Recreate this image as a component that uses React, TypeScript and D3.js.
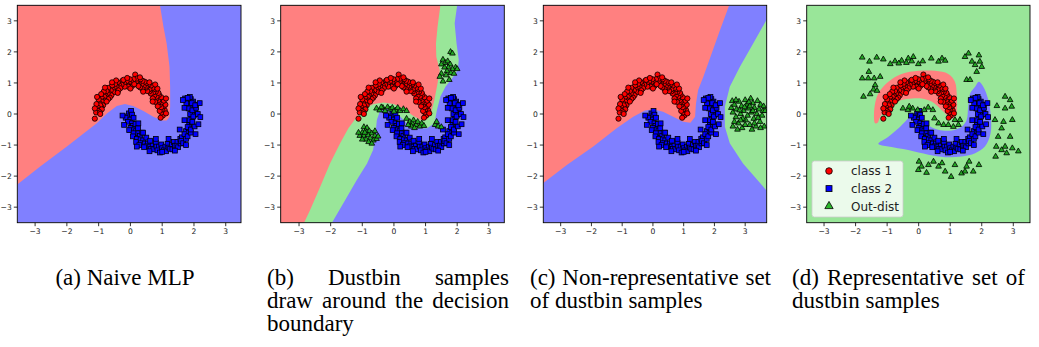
import React from 'react';
import * as d3 from 'd3';

type Pt = [number, number];

// ---- scatter data ----
const class1: Pt[] = [
  [1.02, -0.05], [0.98, 0.05], [1.08, 0.12], [0.95, -0.12], [1.12, 0.02],
  [0.99, 0.15], [1.05, 0.25], [0.92, 0.1], [1.1, 0.3], [0.97, 0.22],
  [0.93, 0.3], [0.98, 0.38], [0.86, 0.25], [1.05, 0.43], [0.9, 0.4],
  [0.88, 0.45], [0.82, 0.5], [0.97, 0.54], [0.78, 0.39], [0.9, 0.62],
  [0.82, 0.56], [0.75, 0.6], [0.88, 0.68], [0.7, 0.5], [0.8, 0.72],
  [0.72, 0.7], [0.64, 0.66], [0.78, 0.8], [0.6, 0.73], [0.7, 0.84],
  [0.6, 0.8], [0.53, 0.74], [0.65, 0.92], [0.5, 0.85], [0.58, 0.96],
  [0.48, 0.88], [0.42, 0.9], [0.52, 1.0], [0.38, 0.8], [0.45, 1.04],
  [0.35, 0.95], [0.3, 0.86], [0.38, 1.07], [0.26, 0.98], [0.32, 1.12],
  [0.22, 0.96], [0.18, 1.05], [0.25, 0.9], [0.15, 1.27], [0.2, 1.14],
  [0.08, 1.0], [0.05, 0.9], [0.1, 1.12], [0.02, 1.04], [0.12, 0.96],
  [-0.05, 1.02], [-0.1, 0.93], [-0.02, 1.12], [-0.12, 1.06], [-0.07, 0.88],
  [-0.2, 0.98], [-0.25, 1.07], [-0.18, 0.88], [-0.28, 0.94], [-0.22, 1.1],
  [-0.35, 0.92], [-0.4, 1.02], [-0.32, 0.83], [-0.44, 0.88], [-0.38, 0.76],
  [-0.5, 0.86], [-0.55, 0.78], [-0.48, 0.97], [-0.58, 0.92], [-0.52, 0.7],
  [-0.62, 0.76], [-0.68, 0.68], [-0.6, 0.6], [-0.7, 0.84], [-0.65, 0.53],
  [-0.72, 0.66], [-0.78, 0.58], [-0.75, 0.74], [-0.84, 0.72], [-0.7, 0.48],
  [-0.82, 0.55], [-0.9, 0.5], [-0.8, 0.43], [-0.92, 0.64], [-0.85, 0.36],
  [-0.9, 0.4], [-0.97, 0.35], [-0.86, 0.28], [-1.0, 0.47], [-0.92, 0.22],
  [-0.95, 0.28], [-1.02, 0.2], [-0.98, 0.12], [-1.07, 0.32], [-0.9, 0.15],
  [-1.02, 0.1], [-1.08, 0.05], [-0.96, 0.05], [-1.12, 0.18], [-1.12, -0.15],
  [0.6, 1.02], [0.3, 1.18], [-0.1, 1.16], [-0.45, 1.08], [-0.8, 0.85], [-1.05, 0.55],
  [0.85, 0.82], [1.12, 0.5], [0.4, 0.72], [0.0, 0.82], [-0.4, 0.68], [-0.75, 0.4],
  [0.7, 0.4], [-0.58, 1.02], [0.78, 0.95], [-0.95, 0.0],
];

const class2: Pt[] = [
  [-0.05, 0.02], [0.02, 0.1], [-0.1, -0.08], [0.05, -0.02], [-0.15, -0.12],
  [0.0, -0.18], [-0.08, -0.25], [0.1, -0.12], [-0.2, -0.35], [0.05, -0.3],
  [0.08, -0.38], [0.0, -0.45], [0.16, -0.32], [-0.04, -0.52], [0.12, -0.5],
  [0.18, -0.55], [0.1, -0.62], [0.24, -0.46], [0.08, -0.72], [0.25, -0.62],
  [0.3, -0.7], [0.2, -0.8], [0.37, -0.6], [0.18, -0.9], [0.32, -0.82],
  [0.4, -0.85], [0.33, -0.94], [0.5, -0.76], [0.28, -1.0], [0.45, -0.95],
  [0.55, -0.95], [0.5, -1.04], [0.62, -0.86], [0.43, -1.07], [0.62, -1.05],
  [0.7, -1.02], [0.65, -1.12], [0.8, -0.93], [0.72, -1.14], [0.82, -1.05],
  [0.9, -1.05], [0.85, -1.17], [0.97, -0.98], [0.93, -1.24], [1.0, -1.1],
  [1.1, -1.05], [1.05, -1.17], [1.17, -0.96], [1.12, -1.2], [1.2, -1.08],
  [1.3, -1.0], [1.25, -1.12], [1.37, -0.9], [1.32, -1.14], [1.4, -1.02],
  [1.48, -0.9], [1.45, -1.02], [1.57, -0.8], [1.5, -1.07], [1.58, -0.95],
  [1.62, -0.75], [1.6, -0.87], [1.72, -0.66], [1.66, -0.94], [1.75, -0.8],
  [1.75, -0.55], [1.7, -0.65], [1.84, -0.46], [1.8, -0.72], [1.9, -0.6],
  [1.85, -0.35], [1.8, -0.42], [1.94, -0.26], [1.9, -0.5], [2.02, -0.4],
  [1.92, -0.12], [1.86, -0.2], [2.0, -0.03], [1.95, -0.25], [2.14, -0.33],
  [1.95, 0.05], [1.88, 0.0], [2.04, 0.12], [1.98, -0.08], [2.12, 0.0],
  [1.9, 0.25], [1.83, 0.18], [2.02, 0.3], [1.95, 0.12], [2.07, 0.2],
  [1.82, 0.42], [1.76, 0.35], [1.9, 0.48], [1.72, 0.5], [1.97, 0.4],
  [1.87, 0.55], [1.8, 0.52], [1.93, 0.35], [1.65, 0.45], [2.04, 0.28],
  [0.2, -1.05], [0.6, -1.2], [1.0, -1.22], [1.4, -1.18], [1.75, -1.0], [2.05, -0.65],
  [2.2, -0.1], [0.4, -0.6], [0.8, -0.8], [1.2, -0.8], [1.55, -0.5], [1.7, -0.2],
  [0.25, -0.3], [1.7, 0.2], [-0.25, -0.05], [2.18, 0.35],
];

const dustbinB: Pt[] = [
  [1.79, 2.0], [1.85, 1.95], [1.55, 1.75], [1.62, 1.65], [1.7, 1.7], [1.78, 1.6], [1.95, 1.5],
  [2.0, 1.45], [1.85, 1.45], [1.72, 1.5], [1.6, 1.5], [1.5, 1.3], [1.68, 1.38], [1.8, 1.32],
  [1.45, 1.2], [1.55, 1.05], [1.75, 1.1], [1.9, 1.3], [1.65, 1.25], [1.5, 1.6],
  [-0.95, -0.42], [-0.85, -0.45], [-0.9, -0.55], [-1.0, -0.6], [-0.78, -0.55], [-0.7, -0.62],
  [-1.08, -0.7], [-0.95, -0.7], [-0.82, -0.68], [-0.6, -0.7], [-0.75, -0.78], [-0.88, -0.82],
  [-1.0, -0.82], [-0.65, -0.85], [-0.55, -0.8], [-0.8, -0.9], [-0.7, -0.95], [-0.92, -0.6],
  [-0.6, -0.55], [-1.12, -0.6], [-0.5, -0.72],
  [-0.55, 0.18], [-0.45, 0.12], [-0.35, 0.2], [-0.28, 0.1], [-0.2, 0.22], [-0.12, 0.15],
  [-0.05, 0.2], [0.05, 0.12], [0.12, 0.2], [0.2, 0.1], [0.3, 0.16], [0.4, 0.1], [-0.4, 0.22], [0.0, 0.08],
  [0.4, -0.15], [0.5, -0.25], [0.58, -0.3], [0.62, -0.2], [0.7, -0.35], [0.75, -0.25], [0.82, -0.4],
  [0.88, -0.3], [0.95, -0.38], [0.55, -0.4], [0.45, -0.35], [1.3, -0.35], [1.4, -0.4], [1.5, -0.42],
  [1.35, -0.25], [0.65, -0.45],
];

const dustbinC: Pt[] = [
  [2.55, 0.2], [2.6, 0.05], [2.65, 0.3], [2.7, -0.1], [2.72, 0.15], [2.8, 0.4], [2.78, -0.3],
  [2.85, 0.0], [2.88, 0.25], [2.9, -0.45], [2.95, 0.1], [3.0, 0.45], [3.02, -0.2], [3.05, 0.3],
  [3.08, -0.05], [3.1, 0.18], [3.15, -0.35], [3.18, 0.5], [3.2, 0.05], [3.25, 0.35], [3.28, -0.15],
  [3.3, 0.2], [3.35, -0.4], [3.38, 0.0], [3.4, 0.42], [3.45, 0.15], [3.48, -0.25], [3.5, 0.3],
  [3.55, -0.05], [3.6, 0.25], [3.62, -0.4], [2.65, -0.25], [2.75, -0.5], [2.6, -0.4], [2.92, -0.15],
  [3.12, 0.38], [3.22, -0.5], [3.42, -0.12], [3.58, 0.1], [2.82, 0.12], [3.0, -0.35], [3.3, -0.3],
  [2.58, 0.42], [3.65, 0.1], [3.15, 0.25], [2.7, 0.45], [2.98, 0.22], [3.25, 0.1], [3.5, -0.45],
  [2.85, -0.2],
];

const dustbinD: Pt[] = [
  [-1.79, 1.82], [-1.56, 1.69], [-1.33, 1.82], [-1.12, 1.76], [-0.9, 1.61], [-0.75, 1.7],
  [-0.54, 1.72], [-0.33, 1.79], [-0.22, 1.7], [-0.01, 1.61], [0.13, 1.7], [0.4, 1.79],
  [0.63, 1.69], [0.74, 1.79], [0.84, 1.72], [-0.63, 1.63], [-0.39, 1.65], [-0.17, 1.84],
  [-1.58, 1.36], [-1.79, 1.15], [-1.6, 1.15], [-1.41, 1.15], [-1.22, 1.2], [-1.38, 0.93],
  [-1.43, 0.79], [-1.54, 0.64], [-1.75, 0.56], [-1.32, 0.75],
  [1.58, 1.95], [1.91, 1.89], [1.69, 1.69], [1.79, 1.58], [1.94, 1.69], [1.84, 1.36],
  [1.52, 1.1], [1.63, 1.1], [2.0, 1.52], [1.47, 1.84],
  [2.74, 0.56], [2.9, 0.45], [2.48, 0.26], [2.74, 0.18], [2.95, 0.24], [2.42, -0.19],
  [2.69, -0.25], [2.97, -0.19], [2.63, -0.46], [2.9, -0.73], [2.52, -0.73], [2.46, -1.05],
  [2.74, -1.05], [2.97, -1.1], [3.16, -1.2], [2.44, -1.37], [2.79, -1.26], [2.63, -1.16],
  [0.01, -1.53], [0.09, -1.69], [0.31, -1.64], [0.25, -1.89], [0.63, -1.69], [0.74, -1.58],
  [0.84, -1.85], [1.03, -2.02], [1.15, -1.64], [1.36, -1.91], [1.52, -1.69], [1.6, -1.53],
  [1.73, -1.85], [1.91, -1.64], [1.47, -1.85], [-0.01, -1.8], [0.47, -1.53],
  [-0.5, 0.18], [-0.34, 0.13], [-0.19, 0.18], [-0.03, 0.13], [0.3, 0.21], [0.45, 0.13],
  [0.18, 0.13], [-0.3, 0.24],
  [0.63, -0.3], [0.79, -0.35], [0.94, -0.35], [1.15, -0.19], [1.26, -0.35], [1.31, -0.19],
  [1.1, -0.41], [0.5, -0.14],
];

// ---- decision region outlines (data coords) ----
const naiveRed: Pt[] = [
  [-3.6, 3.6], [0.93, 3.6], [0.93, 3.5], [1.04, 2.81], [1.14, 2.27], [1.23, 1.52], [1.25, 0.88],
  [1.25, 0.24], [1.23, -0.09], [1.14, -0.21], [0.99, -0.21], [0.72, -0.09], [0.41, 0.1],
  [0.09, 0.26], [-0.17, 0.32], [-0.43, 0.26], [-0.74, 0.02], [-1.06, -0.3], [-2.0, -1.05],
  [-2.84, -1.69], [-3.6, -2.3],
];

const dustbinGreenB: Pt[] = [
  [-3.7, 3.6], [2.0, 3.6], [2.0, 3.5], [1.92, 2.92], [1.98, 2.27], [2.05, 1.74], [2.02, 1.41],
  [1.84, 1.15], [1.63, 0.88], [1.47, 0.56], [1.36, 0.13], [1.28, -0.3], [1.05, -0.46],
  [0.73, -0.46], [0.41, -0.3], [0.15, -0.03], [-0.06, 0.13], [-0.27, 0.18], [-0.45, 0.07],
  [-0.54, -0.19], [-0.59, -0.73], [-0.66, -1.16], [-0.85, -1.59], [-1.17, -2.12],
  [-1.54, -2.77], [-1.96, -3.5], [-2.0, -3.6], [-3.7, -3.6],
];

const dustbinRedB: Pt[] = [
  [-3.7, 3.6], [1.47, 3.6], [1.47, 3.5], [1.38, 2.81], [1.33, 2.27], [1.34, 1.84], [1.45, 1.41],
  [1.38, 0.99], [1.28, 0.45], [1.17, 0.02], [1.05, -0.17], [0.84, -0.19], [0.57, -0.03],
  [0.31, 0.18], [-0.01, 0.32], [-0.33, 0.37], [-0.64, 0.32], [-0.91, 0.18], [-1.17, -0.09],
  [-1.44, -0.46], [-1.7, -0.94], [-2.02, -1.59], [-2.33, -2.34], [-2.65, -3.09],
  [-2.84, -3.5], [-2.88, -3.6], [-3.7, -3.6],
];

const nonRepRed: Pt[] = [
  [-3.6, 3.6], [2.52, 3.6], [2.48, 3.5], [2.18, 2.7], [1.91, 1.95], [1.64, 1.2], [1.47, 0.77],
  [1.4, 0.34], [1.37, -0.09], [1.22, -0.28], [0.98, -0.25], [0.66, -0.09], [0.33, 0.07],
  [0.01, 0.15], [-0.26, 0.11], [-0.64, -0.09], [-1.18, -0.46], [-1.94, -1.05],
  [-2.8, -1.64], [-3.6, -2.25],
];

const nonRepGreen: Pt[] = [
  [3.8, 3.1], [3.7, 3.04], [3.26, 2.27], [2.83, 1.52], [2.5, 0.88], [2.34, 0.24],
  [2.34, -0.41], [2.5, -0.94], [2.93, -1.59], [3.7, -2.47], [3.8, -2.55],
];

const repRed: Pt[] = [
  [-1.38, -0.3], [-1.41, 0.13], [-1.28, 0.66], [-0.96, 1.04], [-0.54, 1.29], [-0.01, 1.39],
  [0.52, 1.39], [0.94, 1.29], [1.15, 1.04], [1.21, 0.56], [1.21, 0.13], [1.15, -0.09],
  [1.03, -0.15], [0.89, -0.03], [0.68, 0.18], [0.41, 0.4], [0.1, 0.5], [-0.22, 0.5],
  [-0.54, 0.45], [-0.8, 0.34], [-1.01, 0.18], [-1.22, -0.09], [-1.3, -0.28],
];

const repBlue: Pt[] = [
  [-1.28, -0.96], [-0.96, -0.73], [-0.64, -0.46], [-0.38, -0.19], [-0.22, -0.03], [-0.06, -0.03],
  [0.1, -0.14], [0.31, -0.36], [0.62, -0.51], [1.05, -0.53], [1.36, -0.41], [1.52, -0.19],
  [1.57, 0.24], [1.63, 0.66], [1.79, 0.88], [1.91, 1.04], [2.05, 0.88], [2.21, 0.45],
  [2.29, -0.09], [2.28, -0.62], [2.1, -1.05], [1.79, -1.26], [1.36, -1.37], [0.84, -1.39],
  [0.31, -1.31], [-0.33, -1.16], [-0.96, -1.05],
];

const xTicks = [-3, -2, -1, 0, 1, 2, 3];
const yTicks = [-3, -2, -1, 0, 1, 2, 3];
const yDomain: [number, number] = [-3.5, 3.5];

const legendLabels = ['class 1', 'class 2', 'Out-dist'];

const REGION = { red: '#ff8080', blue: '#8080ff', green: '#99e699' };
const MARK = { red: '#ff0000', blue: '#0000ff', green: '#22a822' };

const PLOT_TOP = 5.3;
const PLOT_H = 217.4;
const CAP_SIZE = 23;
const CAP_FONT = '"Liberation Serif", "Times New Roman", serif';
const CAP_Y = 285;
const CAP_LH = 23;

type Region = { pts: Pt[]; fill: string; smooth?: boolean };
type CapLine = { text: string; justify?: boolean };

const panels = [
  {
    key: 'a', left: 17.3, width: 223.7, xDomain: [-3.56, 3.48] as [number, number],
    bg: REGION.blue, regions: [{ pts: naiveRed, fill: REGION.red }] as Region[], dustbin: null as Pt[] | null,
    capX: 5, capW: 240, center: true,
    caption: [{ text: '(a) Naive MLP' }] as CapLine[],
  },
  {
    key: 'b', left: 280.7, width: 223.6, xDomain: [-3.58, 3.49] as [number, number],
    bg: REGION.blue,
    regions: [{ pts: dustbinGreenB, fill: REGION.green }, { pts: dustbinRedB, fill: REGION.red }] as Region[],
    dustbin: dustbinB, capX: 267, capW: 242, center: false,
    caption: [
      { text: '(b) Dustbin samples', justify: true },
      { text: 'draw around the decision', justify: true },
      { text: 'boundary' },
    ] as CapLine[],
  },
  {
    key: 'c', left: 543.3, width: 223.4, xDomain: [-3.565, 3.7] as [number, number],
    bg: REGION.blue,
    regions: [{ pts: nonRepRed, fill: REGION.red }, { pts: nonRepGreen, fill: REGION.green }] as Region[],
    dustbin: dustbinC, capX: 530, capW: 241, center: false,
    caption: [
      { text: '(c) Non-representative set', justify: true },
      { text: 'of dustbin samples' },
    ] as CapLine[],
  },
  {
    key: 'd', left: 806.7, width: 223.3, xDomain: [-3.55, 3.53] as [number, number],
    bg: REGION.green,
    regions: [{ pts: repRed, fill: REGION.red, smooth: true }, { pts: repBlue, fill: REGION.blue, smooth: true }] as Region[],
    dustbin: dustbinD, capX: 792, capW: 233, center: false,
    caption: [
      { text: '(d) Representative set of', justify: true },
      { text: 'dustbin samples' },
    ] as CapLine[],
  },
];

let measureCtx: CanvasRenderingContext2D | null = null;
const textWidth = (s: string) => {
  if (!measureCtx) measureCtx = document.createElement('canvas').getContext('2d');
  if (!measureCtx) return s.length * CAP_SIZE * 0.45;
  measureCtx.font = `${CAP_SIZE}px ${CAP_FONT}`;
  return measureCtx.measureText(s).width;
};

const fmt = (v: number) => (v < 0 ? `\u2212${-v}` : `${v}`);

const triangle = d3.symbol().type(d3.symbolTriangle).size(14)() as string;

const Caption = ({ x, w, lines, center }: { x: number; w: number; lines: CapLine[]; center: boolean }) => (
  <g fontFamily={CAP_FONT} fontSize={CAP_SIZE} fill="#000">
    {lines.map((ln, i) => {
      const y = CAP_Y + i * CAP_LH;
      if (ln.justify) {
        const words = ln.text.split(' ');
        const ws = words.map(textWidth);
        const gap = Math.max(5, (w - d3.sum(ws)) / (words.length - 1));
        let cx = 0;
        const xs = ws.map((wd) => { const p = cx; cx += wd + gap; return p; });
        return (
          <g key={i} transform={`translate(${x},${y})`}>
            {words.map((wd, j) => <text key={j} x={xs[j]}>{wd}</text>)}
          </g>
        );
      }
      return (
        <text key={i} x={center ? x + w / 2 : x} y={y} textAnchor={center ? 'middle' : 'start'}>{ln.text}</text>
      );
    })}
  </g>
);

const Panel = ({ p }: { p: typeof panels[number] }) => {
  const x = d3.scaleLinear().domain(p.xDomain).range([0, p.width]);
  const y = d3.scaleLinear().domain(yDomain).range([PLOT_H, 0]);
  const lin = d3.line<Pt>().x((d) => x(d[0])).y((d) => y(d[1]));
  const smooth = d3.line<Pt>().x((d) => x(d[0])).y((d) => y(d[1])).curve(d3.curveCatmullRomClosed.alpha(0.5));
  const clipId = `clip-${p.key}`;
  return (
    <g transform={`translate(${p.left},${PLOT_TOP})`}>
      <defs>
        <clipPath id={clipId}><rect width={p.width} height={PLOT_H} /></clipPath>
      </defs>
      <g clipPath={`url(#${clipId})`}>
        <rect width={p.width} height={PLOT_H} fill={p.bg} />
        {p.regions.map((r, i) => (
          <path key={i} d={(r.smooth ? smooth(r.pts) : lin(r.pts) + 'Z') as string} fill={r.fill} />
        ))}
        {class1.map((d, i) => (
          <circle key={`c1${i}`} cx={x(d[0])} cy={y(d[1])} r={2.6} fill={MARK.red} stroke="#000" strokeWidth={0.8} />
        ))}
        {class2.map((d, i) => (
          <rect key={`c2${i}`} x={x(d[0]) - 2.4} y={y(d[1]) - 2.4} width={4.8} height={4.8} fill={MARK.blue} stroke="#000" strokeWidth={0.8} />
        ))}
        {p.dustbin && p.dustbin.map((d, i) => (
          <path key={`o${i}`} d={triangle} transform={`translate(${x(d[0])},${y(d[1])})`} fill={MARK.green} stroke="#000" strokeWidth={0.8} />
        ))}
      </g>
      <rect width={p.width} height={PLOT_H} fill="none" stroke="#000" strokeWidth={0.9} />
      <g fontFamily='"DejaVu Sans", sans-serif' fontSize={7.6} fill="#222">
        {xTicks.map((t) => (
          <g key={`x${t}`} transform={`translate(${x(t)},${PLOT_H})`}>
            <line y2={3.5} stroke="#000" strokeWidth={0.8} />
            <text y={11} textAnchor="middle">{fmt(t)}</text>
          </g>
        ))}
        {yTicks.map((t) => (
          <g key={`y${t}`} transform={`translate(0,${y(t)})`}>
            <line x2={-3.5} stroke="#000" strokeWidth={0.8} />
            <text x={-5.5} dy="0.35em" textAnchor="end">{fmt(t)}</text>
          </g>
        ))}
      </g>
      {p.key === 'd' && (
        <g transform={`translate(${812 - p.left},${161 - PLOT_TOP})`}>
          <rect width={91} height={56} rx={2.5} fill="#ffffff" fillOpacity={0.8} stroke="#cccccc" strokeWidth={0.8} />
          {legendLabels.map((lab, i) => {
            const cy = 10 + i * 17.6;
            return (
              <g key={lab} transform={`translate(17,${cy})`}>
                {i === 0 && <circle r={3.3} fill={MARK.red} stroke="#000" strokeWidth={0.8} />}
                {i === 1 && <rect x={-3} y={-3} width={6} height={6} fill={MARK.blue} stroke="#000" strokeWidth={0.8} />}
                {i === 2 && <path d={d3.symbol().type(d3.symbolTriangle).size(30)() as string} fill="#2cb82c" stroke="#000" strokeWidth={0.8} />}
                <text x={22} dy="0.36em" fontFamily='"DejaVu Sans", sans-serif' fontSize={12} fill="#222">{lab}</text>
              </g>
            );
          })}
        </g>
      )}
    </g>
  );
};

export default function App() {
  return (
    <svg width={1039} height={347} style={{ display: 'block', position: 'absolute', left: 0, top: 0, background: '#fff' }}>
      <rect width={1039} height={347} fill="#fff" />
      {panels.map((p) => <Panel key={p.key} p={p} />)}
      {panels.map((p) => <Caption key={`cap${p.key}`} x={p.capX} w={p.capW} lines={p.caption} center={p.center} />)}
    </svg>
  );
}
